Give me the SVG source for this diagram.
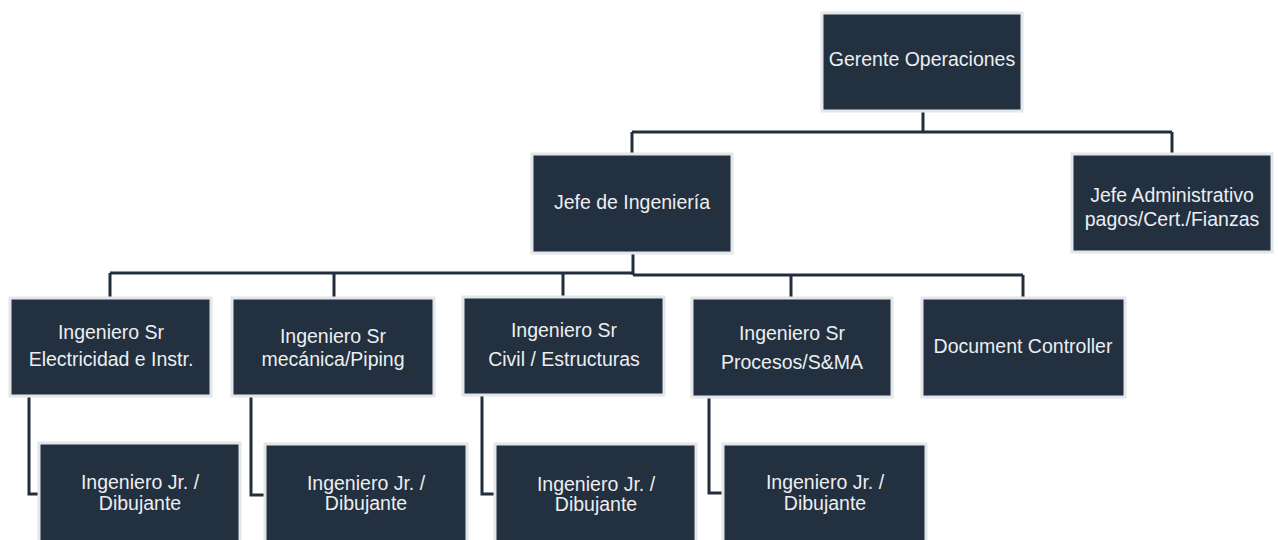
<svg xmlns="http://www.w3.org/2000/svg" width="1278" height="540" viewBox="0 0 1278 540">
  <style>
    .box { fill: #23303f; stroke: #e3e6ea; stroke-width: 3; }
    .lbl { fill: #eceef1; font-family: "Liberation Sans", Arial, sans-serif; font-size: 19.5px; text-anchor: middle; }
    .wire { fill: none; stroke: #222e3b; stroke-width: 3; }
  </style>
  <rect width="1278" height="540" fill="#ffffff"/>

  <!-- connectors -->
  <g id="connectors" class="wire">
    <path d="M923 111 V132 M632 132 H1172 M632 132 V154 M1172 132 V154"/>
    <path d="M633 253 V275 M110 273 H633 M633 275 H1023"/>
    <path d="M110 273 V297 M334 273 V297 M563 273 V297 M791 275 V297 M1023 275 V297"/>
    <path d="M29 396 V494 H39"/>
    <path d="M251 396 V495 H265"/>
    <path d="M482 396 V494 H495"/>
    <path d="M709 396 V493 H723"/>
  </g>

  <!-- top level -->
  <g id="gerente">
    <rect class="box" x="822" y="13" width="200" height="98"/>
    <text class="lbl" x="922" y="66">Gerente Operaciones</text>
  </g>

  <!-- second level -->
  <g id="jefe-ingenieria">
    <rect class="box" x="532" y="154" width="200" height="99"/>
    <text class="lbl" x="632" y="209">Jefe de Ingeniería</text>
  </g>
  <g id="jefe-administrativo">
    <rect class="box" x="1072" y="154" width="200" height="98"/>
    <text class="lbl" x="1172" y="202">Jefe Administrativo</text>
    <text class="lbl" x="1172" y="226">pagos/Cert./Fianzas</text>
  </g>

  <!-- senior engineers -->
  <g id="sr-electricidad">
    <rect class="box" x="10" y="298" width="201" height="98"/>
    <text class="lbl" x="111" y="339">Ingeniero Sr</text>
    <text class="lbl" x="111" y="366">Electricidad e Instr.</text>
  </g>
  <g id="sr-mecanica">
    <rect class="box" x="232" y="298" width="202" height="98"/>
    <text class="lbl" x="333" y="343">Ingeniero Sr</text>
    <text class="lbl" x="333" y="366">mecánica/Piping</text>
  </g>
  <g id="sr-civil">
    <rect class="box" x="463" y="297" width="201" height="98"/>
    <text class="lbl" x="564" y="337">Ingeniero Sr</text>
    <text class="lbl" x="564" y="366">Civil / Estructuras</text>
  </g>
  <g id="sr-procesos">
    <rect class="box" x="692" y="298" width="200" height="99"/>
    <text class="lbl" x="792" y="340">Ingeniero Sr</text>
    <text class="lbl" x="792" y="369">Procesos/S&amp;MA</text>
  </g>
  <g id="document-controller">
    <rect class="box" x="922" y="298" width="203" height="99"/>
    <text class="lbl" x="1023" y="353">Document Controller</text>
  </g>

  <!-- junior engineers -->
  <g id="jr-1">
    <rect class="box" x="39" y="443" width="201" height="110"/>
    <text class="lbl" x="140" y="489">Ingeniero Jr. /</text>
    <text class="lbl" x="140" y="510">Dibujante</text>
  </g>
  <g id="jr-2">
    <rect class="box" x="265" y="444" width="202" height="110"/>
    <text class="lbl" x="366" y="490">Ingeniero Jr. /</text>
    <text class="lbl" x="366" y="510">Dibujante</text>
  </g>
  <g id="jr-3">
    <rect class="box" x="495" y="444" width="201" height="110"/>
    <text class="lbl" x="596" y="491">Ingeniero Jr. /</text>
    <text class="lbl" x="596" y="511">Dibujante</text>
  </g>
  <g id="jr-4">
    <rect class="box" x="723" y="444" width="203" height="110"/>
    <text class="lbl" x="825" y="489">Ingeniero Jr. /</text>
    <text class="lbl" x="825" y="510">Dibujante</text>
  </g>
</svg>
